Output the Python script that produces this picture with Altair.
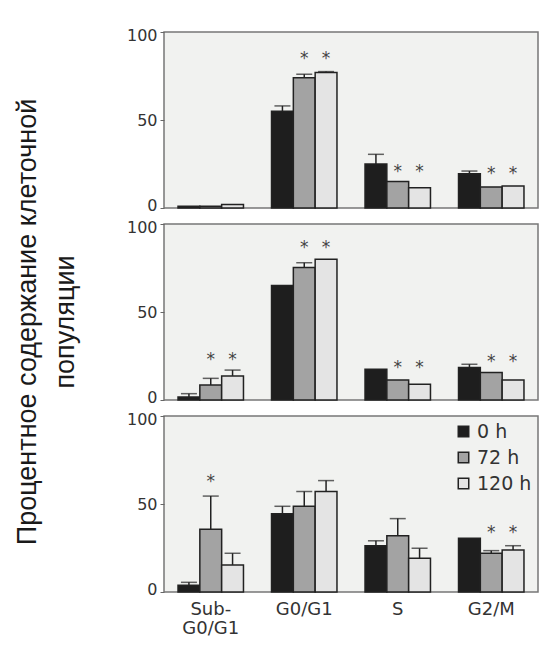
import altair as alt
import pandas as pd

categories = ["Sub-G0/G1", "G0/G1", "S", "G2/M"]
series = ["0 h", "72 h", "120 h"]
colors = ["#1e1e1e", "#a3a3a3", "#e4e4e4"]

# values per panel: rows = categories, cols = series
p1_values = [[1, 1, 2], [55, 74, 77], [25, 15, 11.5], [19.5, 12, 12.5]]
p1_err = [[0, 0, 0], [3, 2, 0.5], [5.5, 0, 0], [1.5, 0, 0]]
p2_values = [[1.7, 8.5, 13.7], [65, 75.3, 80], [17.5, 11.4, 9], [18.4, 15.6, 11.4]]
p2_err = [[1.9, 3.8, 3.3], [0, 2.7, 0], [0, 0, 0], [1.9, 0, 0]]
p3_values = [[3.8, 35.7, 15.4], [44.5, 48.7, 57.1], [26.3, 32, 19.2], [30.5, 22, 23.9]]
p3_err = [[1.7, 18.8, 6.6], [4.2, 8.4, 6.2], [2.8, 9.7, 5.6], [0, 1.5, 2.4]]

# significance stars: (panel, category, series, y-level)
stars = [
    (1, "G0/G1", "72 h", 87), (1, "G0/G1", "120 h", 87),
    (1, "S", "72 h", 23), (1, "S", "120 h", 23),
    (1, "G2/M", "72 h", 21.6), (1, "G2/M", "120 h", 21.6),
    (2, "Sub-G0/G1", "72 h", 25), (2, "Sub-G0/G1", "120 h", 25),
    (2, "G0/G1", "72 h", 88.6), (2, "G0/G1", "120 h", 88.6),
    (2, "S", "72 h", 20.3), (2, "S", "120 h", 20.3),
    (2, "G2/M", "72 h", 23.7), (2, "G2/M", "120 h", 23.7),
    (3, "Sub-G0/G1", "72 h", 65),
    (3, "G2/M", "72 h", 36), (3, "G2/M", "120 h", 36),
]

rows = []
for panel, vals, errs in [(1, p1_values, p1_err), (2, p2_values, p2_err), (3, p3_values, p3_err)]:
    for i, c in enumerate(categories):
        for j, s in enumerate(series):
            rows.append({"panel": panel, "cat": c, "series": s,
                         "value": vals[i][j], "top": vals[i][j] + errs[i][j],
                         "err": errs[i][j]})
df = pd.DataFrame(rows)
star_df = pd.DataFrame(stars, columns=["panel", "cat", "series", "y"])
star_df["t"] = "*"

FONT = "DejaVu Sans"
W, H = 374, 176

x_scale = alt.Scale(domain=categories, paddingInner=0.3, paddingOuter=0.15)
xo_scale = alt.Scale(domain=series, paddingInner=0, paddingOuter=0)
y_scale = alt.Scale(domain=[0, 100], nice=False)
y_axis = alt.Axis(values=[0, 50, 100], tickSize=4, labelFontSize=16, labelFont=FONT,
                  labelColor="#333", grid=False, domain=False, title=None,
                  tickColor="#666", labelPadding=3, labelFlush=True,
                  labelFlushOffset=5)


def panel(k, show_x, show_legend):
    base = alt.Chart(df).transform_filter(alt.datum.panel == k)
    if show_x:
        x_axis = alt.Axis(title=None, labelAngle=0, ticks=False, domain=False,
                          labelFontSize=18, labelFont=FONT, labelColor="#333",
                          labelPadding=8, labelLineHeight=19,
                          labelExpr="datum.value == 'Sub-G0/G1' ? ['Sub-', 'G0/G1'] : datum.value")
    else:
        x_axis = None
    x = alt.X("cat:N", scale=x_scale, axis=x_axis, sort=categories)
    xo = alt.XOffset("series:N", scale=xo_scale, sort=series)
    if show_legend:
        legend = alt.Legend(title=None, orient="top-right", offset=6, symbolType="square",
                            symbolSize=110, symbolStrokeColor="#222", symbolStrokeWidth=1.5,
                            labelFontSize=19, labelFont=FONT, labelColor="#333",
                            rowPadding=6, symbolOffset=0)
    else:
        legend = None
    color = alt.Color("series:N", scale=alt.Scale(domain=series, range=colors),
                      legend=legend, sort=series)
    bars = base.mark_bar(stroke="#222", strokeWidth=1.5).encode(
        x=x, xOffset=xo, y=alt.Y("value:Q", scale=y_scale, axis=y_axis), color=color)
    errs = base.transform_filter(alt.datum.err > 0)
    rule = errs.mark_rule(color="#222", strokeWidth=1.5).encode(
        x=x, xOffset=xo, y="value:Q", y2="top:Q")
    cap = errs.mark_tick(orient="horizontal", size=16, thickness=1.5, color="#222").encode(
        x=x, xOffset=xo, y="top:Q")
    st = alt.Chart(star_df).transform_filter(alt.datum.panel == k).mark_text(
        fontSize=17, font=FONT, color="#444", baseline="middle", dy=4).encode(
        x=x, xOffset=xo, y="y:Q", text="t:N")
    return alt.layer(bars, rule, cap, st).properties(width=W, height=H)


chart = alt.vconcat(
    panel(1, False, False),
    panel(2, False, False),
    panel(3, True, True),
    spacing=16,
    bounds="flush",
).resolve_legend(color="independent").properties(
    title=alt.TitleParams(
        text=["Процентное содержание клеточной", "популяции"],
        orient="left", anchor="middle", font="Liberation Sans", fontSize=27,
        fontWeight="normal", lineHeight=38, offset=46, dx=10, color="#1a1a1a"),
    padding={"left": 5, "top": 18, "right": 2, "bottom": 5},
    background="white",
).configure_view(stroke="#777", strokeWidth=1.5, fill="#f1f2f0")

chart.save("out.html", embed_options={"renderer": "svg", "actions": False})
